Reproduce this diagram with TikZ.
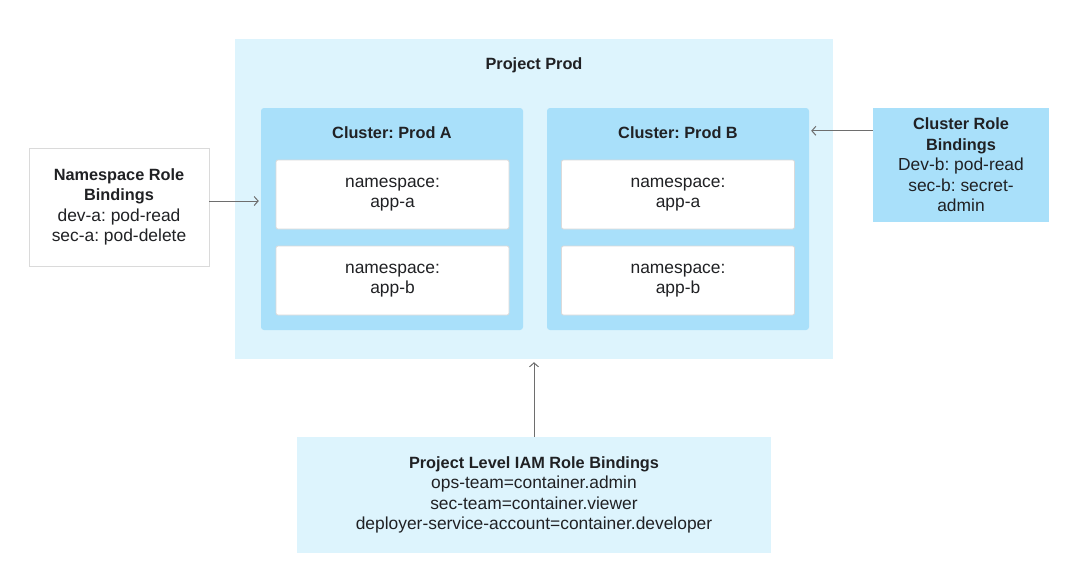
\documentclass[tikz,border=0pt]{standalone}
\usepackage{fontspec}
\setmainfont{Liberation Sans}
\frenchspacing
\usetikzlibrary{arrows.meta}
\definecolor{paleblue}{HTML}{DDF4FD}
\definecolor{midblue}{HTML}{A9E0FA}
\definecolor{boxgrey}{HTML}{DADADA}
\definecolor{txt}{HTML}{202124}
\definecolor{arrgrey}{HTML}{6E6E6E}
\newcommand{\hd}[1]{{\fontsize{16.3}{20.5}\selectfont\bfseries #1}}
\tikzset{
	base/.style={inner sep=0pt, align=center, text=txt, font=\fontsize{17.4}{20.5}\selectfont},
	project/.style={base, fill=paleblue, minimum width=598pt, minimum height=320pt},
	cluster/.style={base, fill=midblue, rounded corners=3pt, minimum width=262pt, minimum height=222pt},
	nsbox/.style={base, fill=white, draw=boxgrey, line width=0.8pt, rounded corners=2pt, minimum width=233pt, minimum height=69pt},
	title/.style={base, font=\fontsize{16.3}{20.5}\selectfont\bfseries},
	arr/.style={draw=arrgrey, line width=1pt, -{Straight Barb[length=4pt,width=9pt]}}
}

\begin{document}
\begin{tikzpicture}[x=1pt, y=-1pt]
		%%%%% START %%%%%
		\useasboundingbox (0, 0) rectangle (1076, 584);
		
		\node[project] (prod) at (534, 199) {};
		\node[title] (prodtitle) at (534, 65) {Project Prod};
		
		\node[cluster] (clusA) at (392, 219) {};
		\node[title] (clusAtitle) at (392, 133) {Cluster: Prod A};
		\node[nsbox] (nsAa) at (392.5, 194.5) {namespace:\\app-a};
		\node[nsbox] (nsAb) at (392.5, 280.5) {namespace:\\app-b};
		
		\node[cluster] (clusB) at (678, 219) {};
		\node[title] (clusBtitle) at (678, 133) {Cluster: Prod B};
		\node[nsbox] (nsBa) at (678, 194.5) {namespace:\\app-a};
		\node[nsbox] (nsBb) at (678, 280.5) {namespace:\\app-b};
		
		\node[base, fill=white, draw=boxgrey, line width=0.8pt, minimum width=180pt, minimum height=118pt] (nsrb) at (119, 207)
			{\hd{Namespace Role}\\\hd{Bindings}\\dev-a: pod-read\\sec-a: pod-delete};
		\node[base, fill=midblue, minimum width=176pt, minimum height=114pt] (crb) at (961, 165)
			{\hd{Cluster Role}\\\hd{Bindings}\\Dev-b: pod-read\\sec-b: secret-\\admin};
		\node[base, fill=paleblue, minimum width=474pt, minimum height=116pt] (iam) at (534, 495)
			{\hd{Project Level IAM Role Bindings}\\ops-team=container.admin\\sec-team=container.viewer\\deployer-service-account=container.developer};
		
		\draw[arr, shorten >=2pt] ([yshift=6pt]nsrb.east) -- ([yshift=6pt]nsrb.east -| clusA.west);
		\draw[arr, shorten >=2pt] ([yshift=-23pt]crb.north west) -- ([yshift=-23pt]crb.north west -| clusB.east);
		\draw[arr, shorten >=3pt] (iam.north) -- (prod.south);
		
		%%%%% END %%%%%
	\end{tikzpicture}
\end{document}
